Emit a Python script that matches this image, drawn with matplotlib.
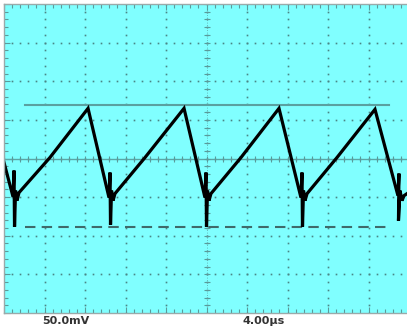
import numpy as np
import matplotlib
matplotlib.use("Agg")
import matplotlib.pyplot as plt
from matplotlib.ticker import MultipleLocator

# scope settings
volts_per_div = 50.0   # mV
time_per_div = 4.0     # us
volt_label = "50.0mV"
time_label = "4.00µs"

# captured trace (us, mV)
trace_t = [0.00, 0.89, 0.99, 1.04, 1.14, 1.28, 1.48, 4.54, 8.30,
           10.37, 10.47, 10.52, 10.62, 10.77, 10.96, 13.93, 17.78,
           19.85, 19.95, 20.00, 20.10, 20.25, 20.44, 23.41, 27.16,
           29.33, 29.43, 29.48, 29.58, 29.73, 29.93, 32.89, 36.64,
           38.91, 39.01, 38.96, 39.11, 39.31, 39.51, 39.80]
trace_v = [-5.2, -49.4, -15.6, -88.3, -41.6, -54.5, -44.2, 1.3, 64.9,
           -50.6, -18.2, -85.7, -41.6, -54.5, -45.5, 1.3, 64.9,
           -50.6, -18.2, -88.3, -41.6, -54.5, -45.5, 1.3, 64.9,
           -50.6, -18.2, -88.3, -41.6, -54.5, -45.5, 1.3, 63.6,
           -48.1, -19.5, -80.5, -41.6, -54.5, -48.1, -45.5]

# cursor lines (mV) and their span (us)
cursor_top = 68.8
cursor_bottom = -88.3
cursor_span = [2.07, 38.0]

bg = "#80ffff"
dot_col = "#4a8585"

fig = plt.figure(figsize=(4.07, 3.29), dpi=100)
ax = fig.add_axes([4 / 407, 16 / 329, 405 / 407, 309 / 329])
ax.set_facecolor(bg)
ax.set_xlim(0, 10 * time_per_div)
ax.set_ylim(-4 * volts_per_div, 4 * volts_per_div)

# dotted graticule
for k in range(1, 10):
    ys = np.arange(-4 * volts_per_div, 4 * volts_per_div + 0.1, volts_per_div / 5)
    ax.plot(np.full_like(ys, k * time_per_div), ys, ls="none", marker="s",
            ms=1.2, color=dot_col, mew=0)
for j in range(-3, 4):
    xs = np.arange(0, 10 * time_per_div + 0.1, time_per_div / 5)
    ax.plot(xs, np.full_like(xs, j * volts_per_div), ls="none", marker="s",
            ms=1.2, color=dot_col, mew=0)

# centre crosshair with small ticks
ax.axhline(0, color="#5aa5a5", lw=1.0)
ax.axvline(5 * time_per_div, color="#5aa5a5", lw=0.6, ls=(0, (1, 2)))
xt = np.arange(0, 10 * time_per_div + 0.1, time_per_div / 5)
ax.plot(xt, np.zeros_like(xt), ls="none", marker="|", ms=5, mew=0.8, color="#5a9a9a")
yt = np.arange(-4 * volts_per_div, 4 * volts_per_div + 0.1, volts_per_div / 5)
ax.plot(np.full_like(yt, 5 * time_per_div), yt, ls="none", marker="_", ms=5,
        mew=0.8, color="#5a9a9a")

# cursors
ax.plot(cursor_span, [cursor_top, cursor_top], color="#5aa0a0", lw=1.5)
ax.plot(cursor_span, [cursor_bottom, cursor_bottom], color="#3f6a6a", lw=1.5,
        ls=(0, (5, 3)))

# trace
ax.plot(trace_t, trace_v, color="black", lw=2.3, solid_joinstyle="miter")

# frame and edge ticks
for side in ["left", "top", "bottom"]:
    ax.spines[side].set_color("#9aaaaa")
    ax.spines[side].set_linewidth(1.0)
ax.spines["right"].set_visible(False)
ax.xaxis.set_minor_locator(MultipleLocator(time_per_div / 5))
ax.yaxis.set_minor_locator(MultipleLocator(volts_per_div / 5))
ax.xaxis.set_major_locator(MultipleLocator(time_per_div))
ax.yaxis.set_major_locator(MultipleLocator(volts_per_div))
ax.tick_params(which="both", direction="in", top=True, bottom=True, left=True,
               right=False, labelbottom=False, labelleft=False,
               color="#5a9a9a", width=0.8)
ax.tick_params(which="major", length=4)
ax.tick_params(which="minor", length=3)

fig.text(66 / 407, 1 - 321 / 329, volt_label, ha="center", va="center",
         fontsize=8, fontweight="bold", color="#333333")
fig.text(264 / 407, 1 - 321 / 329, time_label, ha="center", va="center",
         fontsize=8, fontweight="bold", color="#333333")

fig.savefig("out.png", dpi=100)
